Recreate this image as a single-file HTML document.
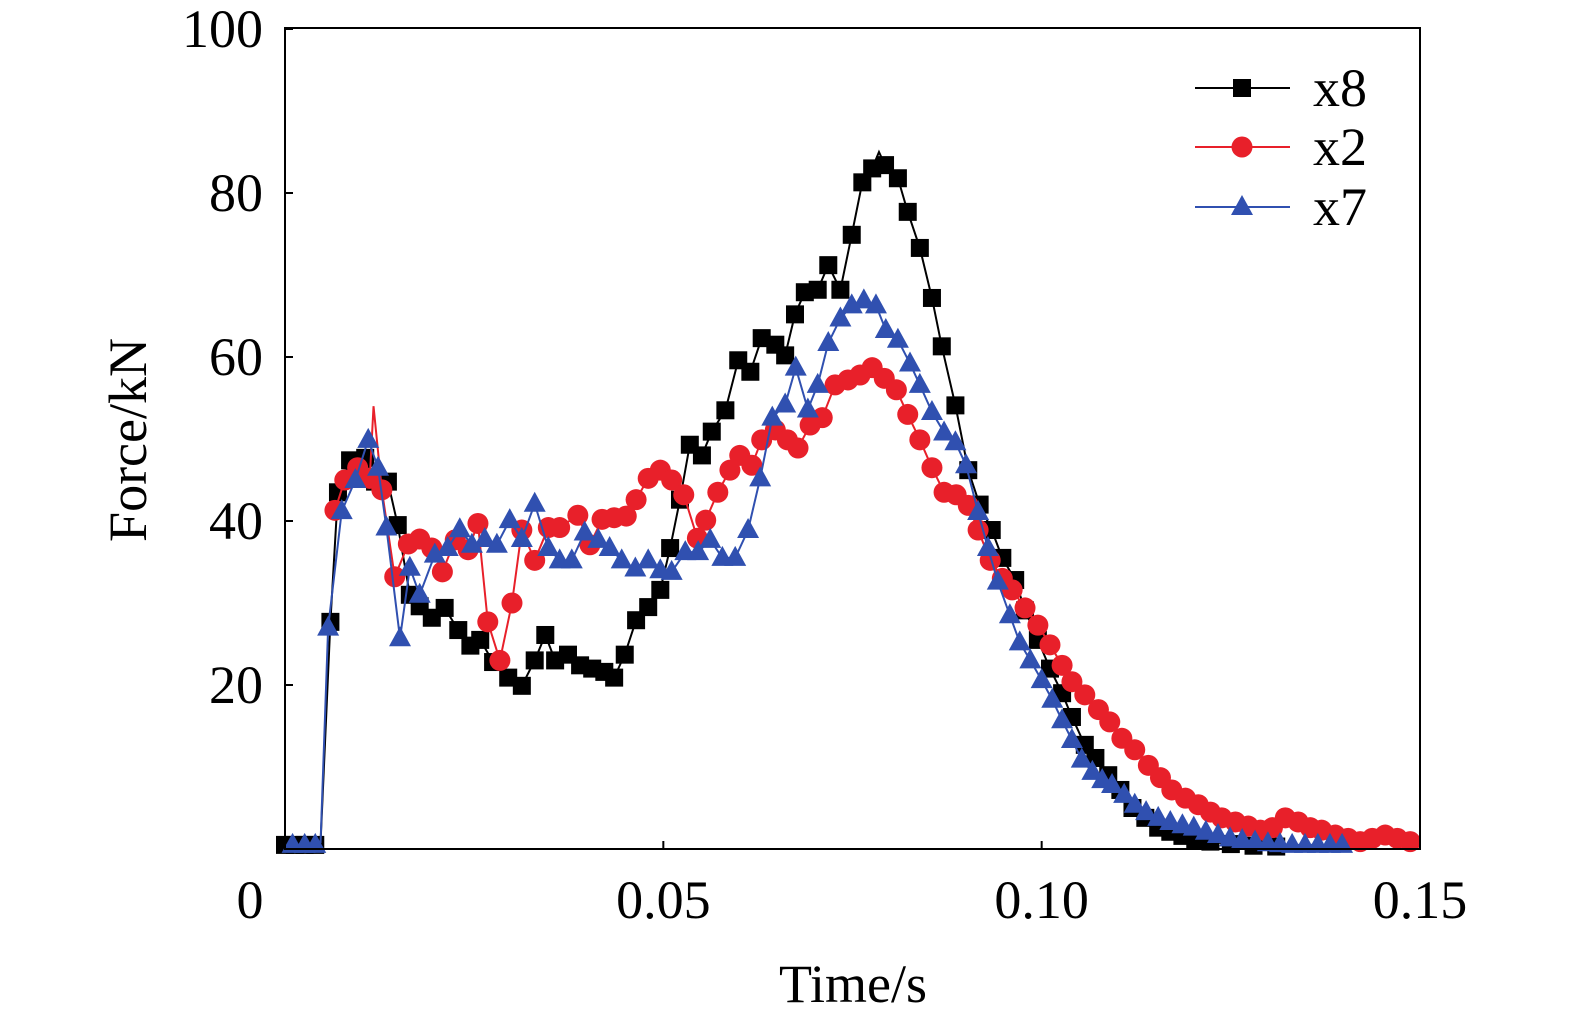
<!DOCTYPE html>
<html><head><meta charset="utf-8">
<style>
html,body{margin:0;padding:0;background:#fff;}
svg{display:block;font-family:"Liberation Serif",serif;}
</style></head>
<body>
<svg id="chart" width="1575" height="1023" viewBox="0 0 1575 1023" xmlns="http://www.w3.org/2000/svg">
<rect x="0" y="0" width="1575" height="1023" fill="#fff"/>
<g id="marks"></g>
<rect x="285" y="28" width="1135" height="821" fill="none" stroke="#000" stroke-width="2"/>
<g id="axes"></g>
<text x="0" y="0" transform="translate(146,440) rotate(-90)" text-anchor="middle" font-size="54">Force/kN</text>
<text x="853" y="1002" text-anchor="middle" font-size="54">Time/s</text>
<g id="legend"></g>
</svg>
<script>
const xTicks=[0,0.05,0.10,0.15];
const xTickLabels=["0","0.05","0.10","0.15"];
const yTicks=[20,40,60,80,100];
const yTickLabels=["20","40","60","80","100"];
const seriesNames=["x8","x2","x7"];
const seriesColors=["#000000","#e8202a","#3050b0"];
const x8T=[0,0.0013,0.0026,0.004,0.0047,0.006,0.007,0.0086,0.0106,0.0119,0.0136,0.0149,0.0165,0.0178,0.0194,0.0211,0.0229,0.0245,0.0258,0.0275,0.0295,0.0313,0.033,0.0344,0.0357,0.0374,0.039,0.0406,0.0422,0.0435,0.0449,0.0464,0.048,0.0496,0.0509,0.0522,0.0535,0.0551,0.0564,0.0582,0.0599,0.0615,0.063,0.0648,0.0661,0.0674,0.0687,0.0704,0.0718,0.0734,0.0749,0.0763,0.0776,0.0785,0.0793,0.081,0.0823,0.0839,0.0855,0.0868,0.0886,0.0903,0.0918,0.0934,0.0948,0.0965,0.0978,0.0995,0.1011,0.1027,0.104,0.1057,0.1071,0.1088,0.1104,0.112,0.1137,0.1154,0.117,0.1186,0.1203,0.1223,0.125,0.128,0.131];
const x8F=[0.5,0.5,0.5,0.5,0.8,27.7,43.5,47.4,47.7,44.8,44.8,39.5,31,29.6,28.2,29.4,26.7,24.8,25.5,22.8,20.9,19.9,23,26.1,23,23.7,22.4,22,21.6,20.9,23.7,27.9,29.5,31.6,36.7,42.6,49.3,48,50.9,53.5,59.6,58.2,62.3,61.5,60.2,65.2,67.9,68.2,71.2,68.2,74.9,81.3,83,85,83.4,81.8,77.7,73.3,67.2,61.3,54.1,46.2,42,38.9,35.5,32.8,29.1,25.5,22,19,16.1,12.7,11.1,9,7.2,5,3.8,2.6,2.1,1.6,1.1,0.9,0.6,0.4,0.3];
const x2T=[0.0066,0.0079,0.0096,0.0112,0.0117,0.0128,0.0145,0.0163,0.0178,0.0194,0.0208,0.0225,0.0242,0.0255,0.0268,0.0284,0.03,0.0313,0.033,0.0348,0.0363,0.0387,0.0403,0.0419,0.0435,0.0451,0.0464,0.048,0.0496,0.0511,0.0527,0.0545,0.0556,0.0572,0.0588,0.0601,0.0617,0.063,0.0648,0.0664,0.0678,0.0694,0.071,0.0727,0.0744,0.076,0.0776,0.0792,0.0808,0.0823,0.0839,0.0855,0.0871,0.0887,0.0903,0.0916,0.0932,0.0948,0.0961,0.0978,0.0995,0.1011,0.1027,0.104,0.1057,0.1075,0.109,0.1106,0.1123,0.1141,0.1157,0.1172,0.119,0.1207,0.1223,0.1238,0.1256,0.1273,0.1289,0.1305,0.1322,0.1339,0.1355,0.137,0.1388,0.1405,0.1421,0.1437,0.1454,0.147,0.1487];
const x2F=[41.3,45,46.5,45.2,54,43.8,33.2,37.2,37.8,36.7,33.8,37.7,36.5,39.7,27.7,23,30,38.9,35.2,39.2,39.2,40.7,37.1,40.2,40.4,40.6,42.6,45.2,46.2,45,43.2,37.9,40.1,43.5,46.2,48,46.8,49.9,51.1,49.9,48.9,51.7,52.6,56.6,57.2,57.8,58.7,57.4,56,53,49.9,46.5,43.5,43.2,41.9,38.9,35.2,33,31.6,29.4,27.3,24.9,22.4,20.4,18.8,17,15.5,13.5,12.1,10.2,8.7,7.2,6.2,5.4,4.5,3.8,3.3,2.8,2.3,2.6,3.8,3.3,2.6,2.3,1.7,1.3,0.9,1.3,1.7,1.3,0.9];
const x7T=[0.001,0.0026,0.004,0.0047,0.0057,0.0075,0.0093,0.011,0.0123,0.0134,0.0152,0.0165,0.0178,0.0198,0.0215,0.0231,0.0247,0.0264,0.028,0.0297,0.0313,0.033,0.0348,0.0363,0.0379,0.0396,0.0414,0.0429,0.0445,0.0463,0.048,0.0496,0.0511,0.0529,0.0546,0.0562,0.0578,0.0595,0.0612,0.0628,0.0644,0.0661,0.0675,0.0691,0.0704,0.0718,0.0734,0.0749,0.0765,0.0781,0.0794,0.081,0.0826,0.0839,0.0855,0.0871,0.0886,0.09,0.0916,0.0929,0.0942,0.0958,0.0971,0.0985,0.1,0.1014,0.1027,0.104,0.1053,0.1067,0.108,0.1093,0.1109,0.1123,0.1138,0.1154,0.117,0.1186,0.1201,0.1217,0.1233,0.1249,0.1265,0.1282,0.1299,0.1315,0.1331,0.1348,0.1365,0.1381,0.1397];
const x7F=[0.5,0.5,0.5,0.8,27,41.2,45,49.9,46.5,39.2,25.7,34.3,31,35.9,36.7,39,37.1,37.8,37.1,40.1,37.8,42.1,36.7,35.2,35.2,38.6,37.7,36.7,35.2,34.2,35.2,34,33.8,36.2,36.2,37.7,35.5,35.5,38.9,45.2,52.6,54.2,58.7,53.6,56.6,61.7,64.7,66.3,66.9,66.3,63.3,62.1,59.2,56.6,53.3,50.8,49.6,46.8,41.1,36.7,32.6,28.5,25.2,23,20.6,18.2,15.7,13.3,10.9,9.4,8.4,7.8,6.6,5.4,4.5,3.8,3.3,2.9,2.6,2.1,1.7,1.3,1.1,0.9,0.7,0.6,0.5,0.5,0.5,0.5,0.5];

const NS="http://www.w3.org/2000/svg";
const X0=285,X1=1420,Y0=849,Y1=29;
function xs(t){return X0+(t/0.15)*(X1-X0);}
function ys(f){return Y0-(f/100)*(Y0-Y1);}
function mk(tag,attrs,parent){const e=document.createElementNS(NS,tag);for(const k in attrs)e.setAttribute(k,attrs[k]);parent.appendChild(e);return e;}
const axes=document.getElementById('axes');
xTicks.forEach((v,i)=>{
  const tk=mk('line',{x1:xs(v),x2:xs(v),y1:Y0,y2:Y0-8,stroke:'#000','stroke-width':2},axes);
  
  
  const t=mk('text',{x:xs(v)-(i==0?35:0),y:918,'text-anchor':'middle','font-size':54},axes);
  t.textContent=xTickLabels[i];
  
  
});
yTicks.forEach((v,i)=>{
  const tk=mk('line',{x1:X0,x2:X0+8,y1:ys(v),y2:ys(v),stroke:'#000','stroke-width':2},axes);
  
  
  const t=mk('text',{x:263,y:ys(v)+18,'text-anchor':'end','font-size':54},axes);
  t.textContent=yTickLabels[i];
  
  
});
function marker(type,x,y,color,parent){
  let e;
  if(type===0)e=mk('rect',{x:x-9,y:y-9,width:18,height:18,fill:color},parent);
  else if(type===1)e=mk('circle',{cx:x,cy:y,r:10.5,fill:color},parent);
  else e=mk('polygon',{points:`${x},${y-12} ${x-11},${y+8} ${x+11},${y+8}`,fill:color},parent);
  return e;
}
const marks=document.getElementById('marks');
const allT=[x8T,x2T,x7T],allF=[x8F,x2F,x7F];
for(let s=0;s<3;s++){
  const g=mk('g',{},marks);
  
  
  const pts=allT[s].map((t,i)=>xs(t)+','+ys(allF[s][i])).join(' ');
  const pl=mk('polyline',{points:pts,fill:'none',stroke:seriesColors[s],'stroke-width':2},g);
  
  
  allT[s].forEach((t,i)=>{
    if(s===0&&t===0.0785)return;
    if(s===1&&t===0.0117)return;
    if(allT[s][i]===0.0047)return;
    const m=marker(s,xs(t),ys(allF[s][i]),seriesColors[s],g);
    
    
  });
}
const legend=document.getElementById('legend');
const legY=[88,147,207];
for(let s=0;s<3;s++){
  const g=mk('g',{},legend);
  
  
  mk('line',{x1:1195,x2:1290,y1:legY[s],y2:legY[s],stroke:seriesColors[s],'stroke-width':2},g);
  marker(s,1242,legY[s],seriesColors[s],g);
  const t=mk('text',{x:1313,y:legY[s]+18,'font-size':54},g);
  t.textContent=seriesNames[s];
}
</script>
</body></html>
